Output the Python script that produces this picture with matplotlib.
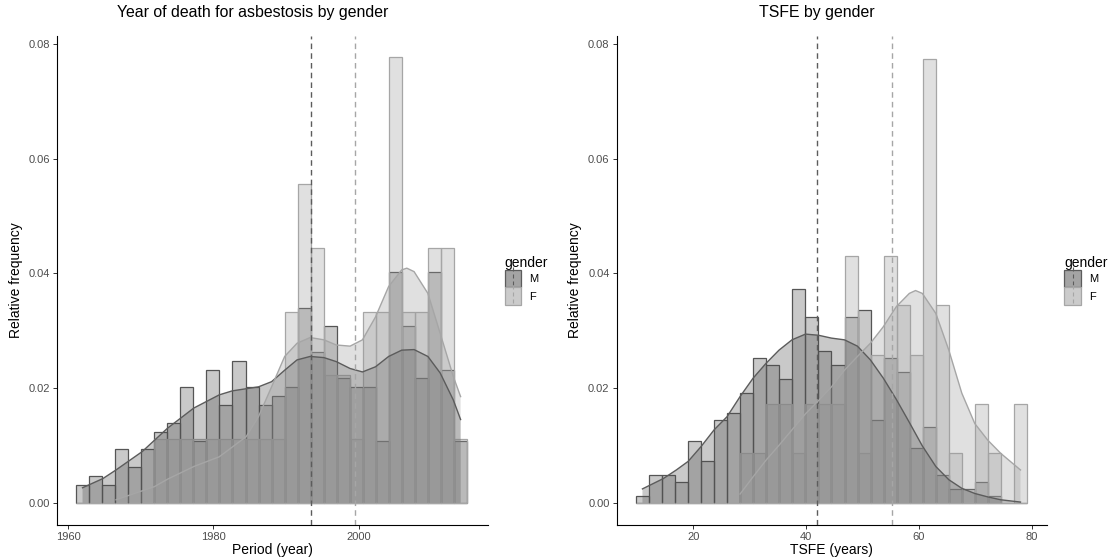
import numpy as np
import matplotlib.pyplot as plt
from matplotlib.colors import to_rgba, to_rgb
from matplotlib.patches import Patch
from matplotlib.lines import Line2D
from matplotlib.path import Path
from matplotlib.legend_handler import HandlerTuple

plt.rcParams['font.family'] = ['Liberation Sans', 'DejaVu Sans']

# ---- data ----
# histogram bins (30 per panel, centred from data min to data max, as ggplot does)
year_range = (1962, 2014)
tsfe_range = (11, 78)

# relative frequency (density) per bin
year_hist_M = [0.0031, 0.0046, 0.0031, 0.0093, 0.0062, 0.0093, 0.0124, 0.0139, 0.0201, 0.0108,
               0.0232, 0.0170, 0.0247, 0.0201, 0.0170, 0.0186, 0.0201, 0.0340, 0.0263, 0.0309,
               0.0217, 0.0201, 0.0201, 0.0108, 0.0402, 0.0309, 0.0217, 0.0402, 0.0232, 0.0108]
year_hist_F = [0.0, 0.0, 0.0, 0.0, 0.0, 0.0, 0.0111, 0.0111, 0.0111, 0.0111,
               0.0111, 0.0111, 0.0111, 0.0111, 0.0111, 0.0111, 0.0333, 0.0555, 0.0444, 0.0222,
               0.0222, 0.0111, 0.0333, 0.0333, 0.0777, 0.0333, 0.0333, 0.0444, 0.0444, 0.0111]

tsfe_hist_M = [0.0012, 0.0048, 0.0048, 0.0036, 0.0108, 0.0072, 0.0144, 0.0156, 0.0192, 0.0252,
               0.0240, 0.0216, 0.0372, 0.0324, 0.0264, 0.0240, 0.0324, 0.0336, 0.0144, 0.0252,
               0.0228, 0.0096, 0.0132, 0.0048, 0.0024, 0.0024, 0.0036, 0.0012, 0.0, 0.0]
tsfe_hist_F = [0.0, 0.0, 0.0, 0.0, 0.0, 0.0, 0.0, 0.0, 0.0086, 0.0086,
               0.0172, 0.0172, 0.0086, 0.0172, 0.0172, 0.0172, 0.0430, 0.0086, 0.0258, 0.0430,
               0.0344, 0.0258, 0.0774, 0.0344, 0.0086, 0.0, 0.0172, 0.0086, 0.0, 0.0172]

# kernel density curves
year_dens_M_x = [1962.0, 1964.8, 1966.6, 1970.2, 1973.7, 1977.3, 1980.8, 1982.6, 1986.2, 1988.0,
                 1989.8, 1991.5, 1993.3, 1995.2, 1996.9, 1998.8, 2000.5, 2002.3, 2004.1, 2005.9,
                 2007.6, 2009.5, 2011.2, 2013.0, 2014.0]
year_dens_M_y = [0.0026, 0.0042, 0.0057, 0.0089, 0.0130, 0.0165, 0.0188, 0.0195, 0.0202, 0.0211,
                 0.0231, 0.0249, 0.0255, 0.0253, 0.0246, 0.0234, 0.0228, 0.0237, 0.0255, 0.0266,
                 0.0267, 0.0255, 0.0226, 0.0179, 0.0145]
year_dens_F_x = [1966.6, 1971.9, 1973.7, 1977.3, 1980.8, 1984.5, 1986.2, 1988.0, 1989.8, 1991.5,
                 1993.3, 1995.2, 1996.9, 1998.8, 2000.5, 2002.3, 2004.1, 2005.9, 2006.6, 2007.6,
                 2009.5, 2011.2, 2013.0, 2014.0]
year_dens_F_y = [0.0005, 0.0028, 0.0041, 0.0063, 0.0080, 0.0115, 0.0150, 0.0202, 0.0255, 0.0278,
                 0.0288, 0.0284, 0.0275, 0.0273, 0.0284, 0.0324, 0.0377, 0.0406, 0.0409, 0.0403,
                 0.0365, 0.0295, 0.0220, 0.0185]

tsfe_dens_M_x = [11.0, 14.7, 17.0, 19.1, 21.4, 23.7, 26.0, 28.3, 30.6, 32.9,
                 35.2, 37.5, 39.9, 42.2, 44.5, 46.8, 49.1, 51.4, 53.7, 56.0,
                 58.3, 60.6, 63.0, 65.3, 67.6, 69.9, 72.2, 74.5, 78.0]
tsfe_dens_M_y = [0.0024, 0.0042, 0.0057, 0.0072, 0.0098, 0.0127, 0.0150, 0.0185, 0.0217, 0.0243,
                 0.0266, 0.0284, 0.0294, 0.0292, 0.0287, 0.0284, 0.0273, 0.0249, 0.0217, 0.0180,
                 0.0140, 0.0099, 0.0063, 0.0040, 0.0025, 0.0016, 0.0010, 0.0005, 0.0001]
tsfe_dens_F_x = [28.3, 30.6, 32.9, 35.2, 37.5, 39.9, 42.2, 44.5, 46.8, 49.1,
                 51.4, 53.7, 56.0, 58.3, 59.4, 60.6, 63.0, 65.3, 67.6, 69.9,
                 72.2, 74.5, 78.0]
tsfe_dens_F_y = [0.0015, 0.0045, 0.0074, 0.0100, 0.0127, 0.0155, 0.0178, 0.0202, 0.0231, 0.0255,
                 0.0278, 0.0307, 0.0342, 0.0365, 0.0370, 0.0365, 0.0330, 0.0266, 0.0191, 0.0138,
                 0.0109, 0.0086, 0.0057]

# medians (dashed lines)
year_median = {"M": 1993.4, "F": 1999.5}
tsfe_median = {"M": 42.0, "F": 55.3}

# ---- style ----
FILL = {"M": "#4d4d4d", "F": "#999999"}
EDGE = {"M": "#555555", "F": "#a6a6a6"}
LINE = {"M": "#5c5c5c", "F": "#a6a6a6"}
ALPHA = 0.3

W, H = 1112, 559
fig = plt.figure(figsize=(W / 100, H / 100), dpi=100)
ax1 = fig.add_axes([57.1 / W, 34 / H, 430.4 / W, 489 / H])
ax2 = fig.add_axes([616.5 / W, 34 / H, 430.5 / W, 489 / H])

# vertical dashed marker for legend keys
dash_marker = Path([(0, -1), (0, -0.55), (0, -0.2), (0, 0.2), (0, 0.55), (0, 1)],
                   [Path.MOVETO, Path.LINETO, Path.MOVETO, Path.LINETO, Path.MOVETO, Path.LINETO])


def key_colour(c):
    # histogram fill then density fill, both at ALPHA, over white
    c = np.array(to_rgb(c))
    out = np.ones(3)
    for _ in range(2):
        out = out * (1 - ALPHA) + c * ALPHA
    return tuple(out)


def panel(ax, rng, hist, dens, med, xlim, xticks, xlabel):
    centers = np.linspace(rng[0], rng[1], 30)
    width = (rng[1] - rng[0]) / 29
    for g in ["M", "F"]:
        ax.bar(centers, hist[g], width=width, facecolor=to_rgba(FILL[g], ALPHA),
               edgecolor=EDGE[g], linewidth=0.9, zorder=2)
    for g in ["M", "F"]:
        dx, dy = dens[g]
        ax.fill_between(dx, 0, dy, facecolor=to_rgba(FILL[g], ALPHA), linewidth=0, zorder=3)
        ax.plot(dx, dy, color=LINE[g], linewidth=1.0, zorder=4)
    for g in ["M", "F"]:
        ax.axvline(med[g], color=LINE[g], linestyle=(0, (4, 3)), linewidth=1.0, zorder=5)

    ax.set_xlim(*xlim)
    ax.set_ylim(-0.0039, 0.0814)
    ax.set_xticks(xticks)
    ax.set_yticks([0, 0.02, 0.04, 0.06, 0.08])
    ax.set_yticklabels(["0.00", "0.02", "0.04", "0.06", "0.08"])
    for s in ["top", "right"]:
        ax.spines[s].set_visible(False)
    for s in ["left", "bottom"]:
        ax.spines[s].set_linewidth(0.8)
        ax.spines[s].set_color("black")
    ax.tick_params(length=3, width=0.7, color="#333333", labelcolor="#4d4d4d",
                   labelsize=8, pad=2)
    ax.set_xlabel(xlabel, fontsize=10, color="black", labelpad=1)
    ax.set_ylabel("Relative frequency", fontsize=10, color="black", labelpad=4)

    handles = []
    for g in ["M", "F"]:
        handles.append((Patch(facecolor=key_colour(FILL[g]), edgecolor=LINE[g], linewidth=0.9),
                        Line2D([], [], linestyle="none", marker=dash_marker, markersize=13,
                               markeredgecolor=LINE[g], markeredgewidth=0.8)))
    ax.legend(handles, ["M", "F"], handler_map={tuple: HandlerTuple(ndivide=1, pad=0)},
              title="gender", loc="center left", bbox_to_anchor=(1.04, 0.5),
              frameon=False, fontsize=8, title_fontsize=10, handlelength=1.5,
              handleheight=2.0, labelspacing=0.0, handletextpad=0.7,
              borderpad=0, borderaxespad=0, alignment="left")


panel(ax1, year_range, {"M": year_hist_M, "F": year_hist_F},
      {"M": (year_dens_M_x, year_dens_M_y), "F": (year_dens_F_x, year_dens_F_y)},
      year_median, (1958.5, 2017.7), [1960, 1980, 2000], "Period (year)")
panel(ax2, tsfe_range, {"M": tsfe_hist_M, "F": tsfe_hist_F},
      {"M": (tsfe_dens_M_x, tsfe_dens_M_y), "F": (tsfe_dens_F_x, tsfe_dens_F_y)},
      tsfe_median, (6.4, 82.7), [20, 40, 60, 80], "TSFE (years)")

fig.text(252.5 / W, 1 - 13 / H, "Year of death for asbestosis by gender", ha="center",
         va="center", fontsize=11.4)
fig.text(817 / W, 1 - 13 / H, "TSFE by gender", ha="center", va="center", fontsize=11.4)

fig.savefig("out.png", dpi=100)
